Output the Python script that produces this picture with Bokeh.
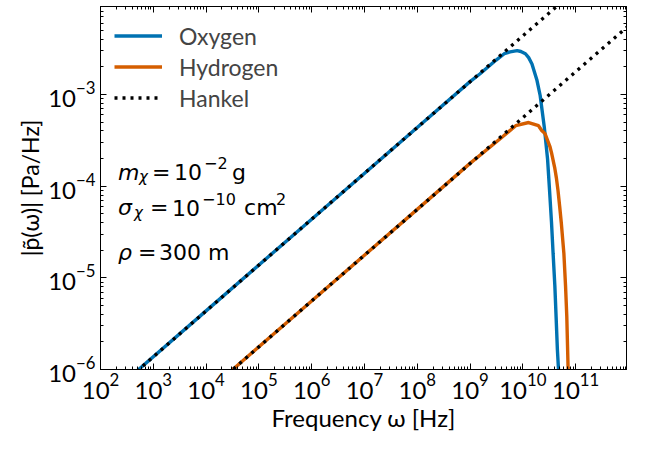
from bokeh.plotting import figure
from bokeh.models import LogAxis, FixedTicker, Legend, LegendItem, Label, CustomJSTickFormatter
from bokeh.embed import file_html
from bokeh.resources import INLINE

# ---- data ----
omega_O = [1e2, 5.27e2, 1e4, 1e6, 1e8, 1e9, 1.53e9, 3.12e9, 4.45e9, 5.74e9, 7.83e9, 9.18e9,
           1.12e10, 1.29e10, 1.49e10, 1.84e10, 2.13e10, 2.55e10, 2.94e10, 3.21e10, 3.49e10,
           3.75e10, 4.04e10, 4.27e10, 4.51e10, 4.74e10, 4.8e10]
p_O = [4.35e-7, 1.0e-6, 4.36e-6, 4.36e-5, 4.36e-4, 1.38e-3, 1.67e-3, 2.37e-3, 2.78e-3, 2.91e-3,
       3.01e-3, 2.94e-3, 2.78e-3, 2.52e-3, 2.15e-3, 1.45e-3, 9.73e-4, 4.40e-4, 1.98e-4, 8.93e-5,
       4.06e-5, 1.82e-5, 8.22e-6, 3.72e-6, 1.67e-6, 1.0e-6, 8.5e-7]

omega_H = [1e2, 3.2e4, 1e6, 1e8, 1e9, 4.14e9, 7.33e9, 1.29e10, 1.98e10, 2.28e10, 2.63e10,
           3.25e10, 3.49e10, 4.04e10, 4.32e10, 4.64e10, 4.99e10, 5.34e10, 6.0e10, 6.44e10,
           6.81e10, 7.20e10, 7.3e10]
p_H = [5.58e-8, 1.0e-6, 5.58e-6, 5.58e-5, 1.77e-4, 3.46e-4, 4.56e-4, 4.94e-4, 4.56e-4, 4.05e-4,
       3.74e-4, 2.72e-4, 2.32e-4, 1.56e-4, 1.23e-4, 8.93e-5, 6.0e-5, 4.04e-5, 1.82e-5, 8.22e-6,
       3.72e-6, 1.04e-6, 8.5e-7]

omega_hankel = [1e2, 1e12]
hankel_O = [4.35e-7, 4.36e-2]
hankel_H = [5.58e-8, 5.58e-3]

x_major = [1e2, 1e3, 1e4, 1e5, 1e6, 1e7, 1e8, 1e9, 1e10, 1e11]
y_major = [1e-6, 1e-5, 1e-4, 1e-3]

series_names = ["Oxygen", "Hydrogen", "Hankel"]

# annotation pieces: (line, dx, dy, text, size, italic)
annotation_parts = [
    (0, 0, 0, "m", 22, True), (0, 21, -5, "χ", 15, True), (0, 34, 0, "=", 22, False),
    (0, 56, 0, "10", 22, False), (0, 86, 9, "−2", 16, False), (0, 114, 0, "g", 22, False),
    (1, 0, 0, "σ", 22, True), (1, 16, -5, "χ", 15, True), (1, 32, 0, "=", 22, False),
    (1, 54, 0, "10", 22, False), (1, 84, 9, "−10", 16, False), (1, 126, 0, "cm", 22, False),
    (1, 158, 9, "2", 16, False),
    (2, 0, 0, "ρ", 22, True), (2, 20, 0, "=", 22, False), (2, 41, 0, "300 m", 22, False),
]
ann_x = 215.0
ann_y = [1.41e-4, 5.78e-5, 1.90e-5]

FONT = "Lato"
MATHFONT = "DejaVu Sans"
BLUE = "#0072B2"
ORANGE = "#D55E00"

x_minor = [k * 10.0 ** e for e in range(2, 12) for k in range(2, 10)]
y_minor = [k * 10.0 ** e for e in range(-6, -1) for k in range(2, 10)]

p = figure(width=634, height=434, x_axis_type="log", y_axis_type="log",
           x_range=(1e2, 9.2e11), y_range=(1e-6, 9.1e-3),
           output_backend="svg", toolbar_location=None,
           min_border_left=100, min_border_right=8, min_border_top=6, min_border_bottom=56)
p.xgrid.visible = False
p.ygrid.visible = False
p.outline_line_color = "black"
p.outline_line_width = 1

r_o = p.line(omega_O, p_O, line_color=BLUE, line_width=3.4)
r_h = p.line(omega_H, p_H, line_color=ORANGE, line_width=3.4)
r_k1 = p.line(omega_hankel, hankel_O, line_color="black", line_width=3.3, line_dash="3 5")
r_k2 = p.line(omega_hankel, hankel_H, line_color="black", line_width=3.3, line_dash="3 5")

def style_axis(ax, ticks, minor, labels=True):
    ax.ticker = FixedTicker(ticks=ticks, minor_ticks=minor)
    ax.major_tick_in = 6
    ax.major_tick_out = 0
    ax.minor_tick_in = 3
    ax.minor_tick_out = 0
    ax.axis_line_color = "black"
    ax.major_tick_line_color = "black"
    ax.minor_tick_line_color = "black"
    ax.major_label_text_font = FONT
    ax.major_label_text_color = "black"
    ax.major_label_text_font_size = "24px"
    if not labels:
        ax.formatter = CustomJSTickFormatter(code="return ' ';")
        ax.major_label_text_font_size = "1px"
        ax.major_label_standoff = 0

xa = p.xaxis[0]
ya = p.yaxis[0]
style_axis(xa, x_major, x_minor)
style_axis(ya, y_major, y_minor)
xa.major_label_standoff = 4
ya.major_label_standoff = 5
xa.axis_label = "Frequency ω [Hz]"
ya.axis_label = "|p̃(ω)| [Pa/Hz]"
for ax in (xa, ya):
    ax.axis_label_text_font = FONT
    ax.axis_label_text_font_style = "normal"
    ax.axis_label_text_color = "black"
    ax.axis_label_standoff = 1
xa.axis_label_text_font_size = "24px"
ya.axis_label_text_font_size = "23px"

top = LogAxis()
style_axis(top, x_major, x_minor, labels=False)
p.add_layout(top, "above")
right = LogAxis()
style_axis(right, y_major, y_minor, labels=False)
p.add_layout(right, "right")

legend = Legend(items=[LegendItem(label=series_names[0], renderers=[r_o]),
                       LegendItem(label=series_names[1], renderers=[r_h]),
                       LegendItem(label=series_names[2], renderers=[r_k1])],
                location="top_left", margin=4, padding=10, spacing=0,
                glyph_width=48, glyph_height=31, label_height=31, label_standoff=17,
                label_text_font=FONT, label_text_font_size="23px",
                label_text_baseline="middle",
                border_line_alpha=0, background_fill_alpha=0)
p.add_layout(legend)

for line, dx, dy, txt, size, italic in annotation_parts:
    p.add_layout(Label(x=ann_x, y=ann_y[line], x_offset=dx, y_offset=dy, text=txt,
                       text_font=MATHFONT, text_font_size=f"{size}px",
                       text_font_style="italic" if italic else "normal",
                       text_baseline="alphabetic", text_color="black"))

open("out.html", "w").write(file_html(p, INLINE))
